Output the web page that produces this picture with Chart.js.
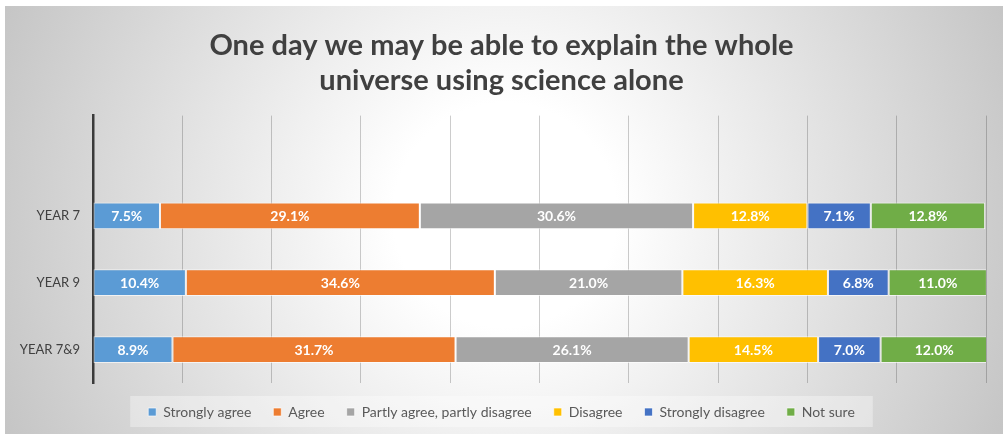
<!DOCTYPE html>
<html>
<head>
<meta charset="utf-8">
<script src="https://cdn.jsdelivr.net/npm/chart.js@4"></script>
<style>
  html, body { margin: 0; padding: 0; background: #fff; }
  #wrap { width: 1003px; height: 434px; }
</style>
</head>
<body>
<div id="wrap"><canvas id="report"></canvas></div>
<script>
// first (empty) row is the blank slot Excel leaves above the bars
const categories = ['', 'YEAR 7', 'YEAR 9', 'YEAR 7&9'];
const stronglyAgree    = [null, 7.5, 10.4, 8.9];
const agree            = [null, 29.1, 34.6, 31.7];
const partlyAgree      = [null, 30.6, 21.0, 26.1];
const disagree         = [null, 12.8, 16.3, 14.5];
const stronglyDisagree = [null, 7.1, 6.8, 7.0];
const notSure          = [null, 12.8, 11.0, 12.0];
const xTicks = [0, 10, 20, 30, 40, 50, 60, 70, 80, 90, 100];

const FONT = 'Lato, Calibri, "Open Sans", sans-serif';

const bgPlugin = {
    id: 'bg',
    beforeDraw(chart) {
        const { ctx, width, height } = chart;
        ctx.save();
        ctx.fillStyle = '#ffffff';
        ctx.fillRect(0, 0, width, height);
        const g = ctx.createRadialGradient(505, 215, 0, 505, 215, 560);
        g.addColorStop(0, '#ffffff');
        g.addColorStop(0.2, '#ffffff');
        g.addColorStop(1, '#c3c3c3');
        ctx.fillStyle = g;
        ctx.fillRect(5, 6, width - 5, height - 6);

        // lighter band behind the legend
        const lg = chart.legend;
        if (lg && lg.legendHitBoxes && lg.legendHitBoxes.length) {
            const boxes = lg.legendHitBoxes;
            const left = Math.min(...boxes.map(b => b.left)) - 18;
            const right = Math.max(...boxes.map(b => b.left + b.width)) + 18;
            const top = boxes[0].top - 9;
            ctx.fillStyle = 'rgba(255,255,255,0.35)';
            ctx.fillRect(left, top, right - left, 31);
        }
        ctx.restore();
    }
};

const labelPlugin = {
    id: 'barLabels',
    afterDatasetsDraw(chart) {
        const ctx = chart.ctx;
        ctx.save();
        ctx.fillStyle = '#ffffff';
        ctx.font = 'bold 14px ' + FONT;
        ctx.textAlign = 'center';
        ctx.textBaseline = 'middle';
        chart.data.datasets.forEach((ds, i) => {
            const meta = chart.getDatasetMeta(i);
            meta.data.forEach((bar, j) => {
                const v = ds.data[j];
                if (v === null || v === undefined) return;
                const p = bar.getProps(['x', 'y', 'base'], true);
                ctx.fillText(v.toFixed(1) + '%', (p.x + p.base) / 2, p.y + 1);
            });
        });
        ctx.restore();
    }
};

function makeSet(label, data, color) {
    return {
        label: label,
        data: data,
        backgroundColor: color,
        borderColor: 'rgba(255,255,255,0.65)',
        borderWidth: 1,
        borderSkipped: false,
        categoryPercentage: 1,
        barPercentage: 0.4
    };
}

const ctx = document.getElementById('report').getContext('2d');
let myChart = new Chart(ctx, {
    type: 'bar',
    data: {
        labels: categories,
        datasets: [
            makeSet('Strongly agree', stronglyAgree, '#5B9BD5'),
            makeSet('Agree', agree, '#ED7D31'),
            makeSet('Partly agree, partly disagree', partlyAgree, '#A5A5A5'),
            makeSet('Disagree', disagree, '#FFC000'),
            makeSet('Strongly disagree', stronglyDisagree, '#4472C4'),
            makeSet('Not sure', notSure, '#70AD47')
        ]
    },
    options: {
        indexAxis: 'y',
        responsive: true,
        maintainAspectRatio: false,
        animation: false,
        layout: { padding: { left: 17, right: 17, top: 0, bottom: 5 } },
        scales: {
            x: {
                stacked: true,
                min: 0,
                max: 100,
                afterBuildTicks: scale => { scale.ticks = xTicks.map(v => ({ value: v })); },
                ticks: { display: false },
                grid: { color: 'rgba(0,0,0,0.2)', lineWidth: 1, drawTicks: false },
                border: { display: false },
                afterFit: scale => { scale.height = 0; }
            },
            y: {
                stacked: true,
                grid: { display: false, drawTicks: false },
                border: { display: true, color: '#3a3a3a', width: 2.5 },
                ticks: {
                    color: '#404040',
                    font: { family: FONT, size: 13 },
                    padding: 13
                },
                afterFit: scale => { scale.width = 76; }
            }
        },
        plugins: {
            title: {
                display: true,
                text: ['One day we may be able to explain the whole', 'universe using science alone'],
                color: '#404040',
                font: { family: FONT, size: 29, weight: 'bold', lineHeight: 1.2 },
                padding: { top: 28, bottom: 18 }
            },
            legend: {
                position: 'bottom',
                labels: {
                    color: '#595959',
                    font: { family: FONT, size: 14 },
                    boxWidth: 8,
                    boxHeight: 8,
                    padding: 22
                }
            },
            tooltip: { enabled: false }
        }
    },
    plugins: [bgPlugin, labelPlugin]
});
</script>
</body>
</html>
